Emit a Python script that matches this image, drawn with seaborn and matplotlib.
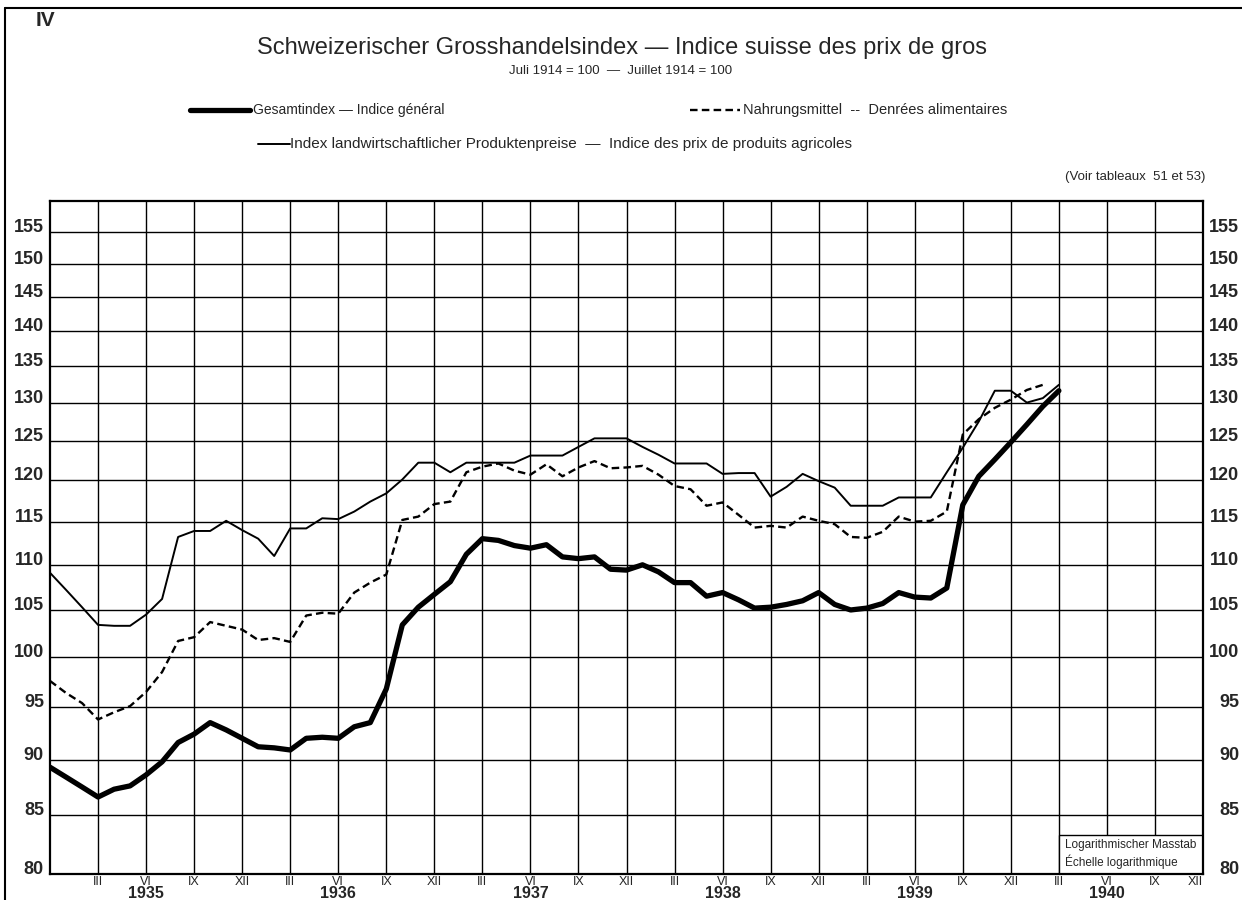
import numpy as np
import pandas as pd
import seaborn as sns
import matplotlib.pyplot as plt
from matplotlib import transforms
from matplotlib.lines import Line2D
from matplotlib.patches import Rectangle

sns.set_style("white")
plt.rcParams['font.family'] = ['Liberation Sans', 'DejaVu Sans']

# Monatswerte, erster Wert = Dezember 1934
gesamt = [89.3, 88.4, 87.5, 86.6, 87.3, 87.6, 88.6, 89.8, 91.6, 92.4, 93.5, 92.8,
          92.0, 91.2, 91.1, 90.9, 92.0, 92.1, 92.0, 93.1, 93.5, 96.8, 103.4, 105.3,
          106.7, 108.1, 111.2, 113.0, 112.8, 112.2, 111.9, 112.3, 110.9, 110.7, 110.9, 109.5,
          109.4, 110.0, 109.2, 108.0, 108.0, 106.5, 106.9, 106.1, 105.2, 105.3, 105.6, 106.0,
          106.9, 105.6, 105.0, 105.2, 105.7, 106.9, 106.4, 106.3, 107.4, 117.0, 120.5, 122.6,
          124.8, 127.1, 129.5, 131.6]
nahrung = [97.6, 96.4, 95.4, 93.8, 94.5, 95.1, 96.5, 98.5, 101.7, 102.1, 103.7, 103.3,
           102.9, 101.8, 102.0, 101.6, 104.4, 104.7, 104.6, 106.9, 108.0, 108.9, 115.2, 115.6,
           117.1, 117.4, 121.0, 121.7, 122.1, 121.2, 120.7, 122.0, 120.5, 121.6, 122.4, 121.5,
           121.6, 121.8, 120.7, 119.3, 118.9, 116.9, 117.3, 115.8, 114.3, 114.5, 114.3, 115.6,
           115.1, 114.7, 113.2, 113.1, 113.8, 115.6, 115.0, 115.1, 116.2, 125.8, 127.8, 129.3,
           130.4, 131.7, 132.4]
agrar = [109.1, 107.2, 105.3, 103.4, 103.3, 103.3, 104.5, 106.2, 113.2, 113.9, 113.9, 115.1,
         114.0, 113.0, 111.0, 114.2, 114.2, 115.4, 115.3, 116.2, 117.4, 118.4, 120.1, 122.2,
         122.2, 121.0, 122.2, 122.2, 122.2, 122.2, 123.1, 123.1, 123.1, 124.2, 125.3, 125.3,
         125.3, 124.2, 123.2, 122.1, 122.1, 122.1, 120.8, 120.9, 120.9, 118.0, 119.2, 120.8,
         119.9, 119.1, 116.9, 116.9, 116.9, 117.9, 117.9, 117.9, 121.0, 124.1, 127.5, 131.6,
         131.6, 130.0, 130.6, 132.4]

y_ticks = [80, 85, 90, 95, 100, 105, 110, 115, 120, 125, 130, 135, 140, 145, 150, 155]
quartale = ['III', 'VI', 'IX', 'XII']
jahre = ['1935', '1936', '1937', '1938', '1939', '1940']

W, H = 1242, 900
def fx(x):
    return x / W
def fy(y):
    return 1 - y / H

fig = plt.figure(figsize=(W / 100, H / 100), dpi=100)
ax = fig.add_axes([fx(50), fy(874), (1203 - 50) / W, (874 - 201) / H])

def reihe(werte, name):
    return pd.DataFrame({'monat': np.arange(len(werte)), 'wert': werte, 'reihe': name})

df = pd.concat([reihe(gesamt, 'gesamt'), reihe(nahrung, 'nahrung'), reihe(agrar, 'agrar')])

sns.lineplot(data=df[df.reihe == 'agrar'], x='monat', y='wert', color='black', lw=1.4, ax=ax)
sns.lineplot(data=df[df.reihe == 'nahrung'], x='monat', y='wert', color='black', lw=1.7,
             linestyle=(0, (3.2, 1.8)), ax=ax)
sns.lineplot(data=df[df.reihe == 'gesamt'], x='monat', y='wert', color='black', lw=3.8,
             solid_joinstyle='round', ax=ax)

ax.set_yscale('log')
ax.minorticks_off()
ax.set_ylim(80, 160)
ax.set_xlim(0, 72)
ax.set_yticks(y_ticks[1:])
ax.set_yticklabels([])
ax.set_xticks(range(3, 72, 3))
ax.set_xticklabels([])
ax.tick_params(length=0)
ax.grid(True, color='black', lw=1.0)
ax.set_xlabel('')
ax.set_ylabel('')
for s in ax.spines.values():
    s.set_color('black')
    s.set_linewidth(1.6)

# Skalenbeschriftung links und rechts
tr = transforms.blended_transform_factory(ax.transAxes, ax.transData)
for v in y_ticks:
    ax.text(-6 / 1153, v, str(v), transform=tr, ha='right', va='baseline',
            fontsize=13, fontweight='bold')
    ax.text(1 + 36 / 1153, v, str(v), transform=tr, ha='right', va='baseline',
            fontsize=13, fontweight='bold')

# Quartale und Jahre
for i, jahr in enumerate(jahre):
    for k, q in enumerate(quartale):
        t = 12 * i + 3 * (k + 1)
        ha = 'right' if t == 72 else 'center'
        ax.annotate(q, (t, 0), xycoords=('data', 'axes fraction'), xytext=(0, -1.5),
                    textcoords='offset points', ha=ha, va='top', fontsize=9)
    ax.annotate(jahr, (12 * i + 6, 0), xycoords=('data', 'axes fraction'), xytext=(0, -9),
                textcoords='offset points', ha='center', va='top', fontsize=11.5,
                fontweight='bold')

# Hinweis logarithmischer Massstab
ax.add_patch(Rectangle((63, 80), 9, 3.3, facecolor='white', edgecolor='black', lw=1.0, zorder=2.5))
ax.text(63.4, 82.4, 'Logarithmischer Masstab', fontsize=8.5, va='center', zorder=3)
ax.text(63.4, 81.0, 'Échelle logarithmique', fontsize=8.5, va='center', zorder=3)

# Kopf
fig.text(fx(36), fy(21), 'IV', fontsize=15, fontweight='bold', va='center')
fig.text(fx(622), fy(48), 'Schweizerischer Grosshandelsindex — Indice suisse des prix de gros',
         fontsize=17, ha='center', va='center')
fig.text(fx(621), fy(71), 'Juli 1914 = 100  —  Juillet 1914 = 100', fontsize=9.5, ha='center', va='center')

# Legende
fig.add_artist(Line2D([fx(190), fx(250)], [fy(110)] * 2, color='black', lw=3.8))
fig.text(fx(253), fy(110), 'Gesamtindex — Indice général', fontsize=10, va='center')
fig.add_artist(Line2D([fx(690), fx(740)], [fy(110)] * 2, color='black', lw=1.7,
                      linestyle=(0, (3.2, 1.8))))
fig.text(fx(743), fy(110), 'Nahrungsmittel  --  Denrées alimentaires', fontsize=10.5, va='center')
fig.add_artist(Line2D([fx(258), fx(290)], [fy(144)] * 2, color='black', lw=1.4))
fig.text(fx(290), fy(144), 'Index landwirtschaftlicher Produktenpreise  —  Indice des prix de produits agricoles',
         fontsize=11, va='center')
fig.text(fx(1205), fy(177), '(Voir tableaux  51 et 53)', fontsize=9.5, ha='right', va='center')

# Rahmen
fig.add_artist(Line2D([fx(5), fx(5)], [fy(8), fy(900)], color='black', lw=1.5))
fig.add_artist(Line2D([fx(5), fx(1242)], [fy(8), fy(8)], color='black', lw=1.5))

fig.savefig('out.png', dpi=100)
